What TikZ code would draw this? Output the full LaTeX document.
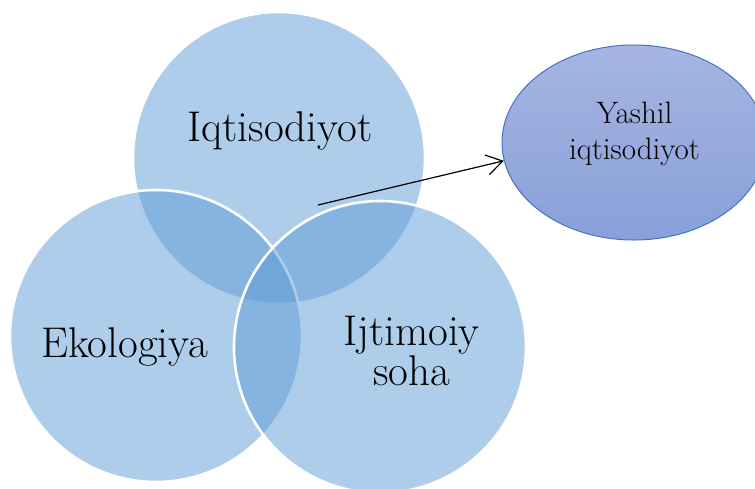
\documentclass[tikz,border=0pt]{standalone}
\usetikzlibrary{arrows.meta,shapes.geometric}
\definecolor{venn}{RGB}{91,155,213}
\definecolor{elltop}{RGB}{166,181,226}
\definecolor{ellbot}{RGB}{136,160,216}
\definecolor{ellline}{RGB}{68,114,196}
\begin{document}
\begin{tikzpicture}[x=1pt,y=-1pt,
  venncirc/.style={circle,minimum size=292pt,inner sep=0pt,fill=venn,fill opacity=0.5,draw=white,line width=2.6pt},
  bigtext/.style={anchor=base,inner sep=0pt,font=\fontsize{43}{34}\selectfont,align=center},
  smalltext/.style={anchor=base,inner sep=0pt,font=\fontsize{31}{36}\selectfont,align=center}]
\useasboundingbox (0,0) rectangle (755,488);
\node[venncirc] (top) at (279,158) {};
\node[venncirc] (left) at (156,336) {};
\node[venncirc] (right) at (380,347) {};
\node[bigtext] (t1) at (280,141) {Iqtisodiyot};
\node[bigtext] (t2) at (124.5,357) {Ekologiya};
\node[bigtext] (t3) at (411.5,385) {Ijtimoiy\\soha};
\node[ellipse,minimum width=264pt,minimum height=195pt,inner sep=0pt,top color=elltop,bottom color=ellbot,draw=ellline,line width=1pt] (yashil) at (634,142.5) {};
\node[smalltext] (t4) at (634.5,159) {Yashil\\iqtisodiyot};
\coordinate (astart) at (318,205);
\draw[line width=1.2pt,-{Straight Barb[length=16pt,width=20pt]}] (astart) -- (yashil.188);
\end{tikzpicture}
\end{document}
